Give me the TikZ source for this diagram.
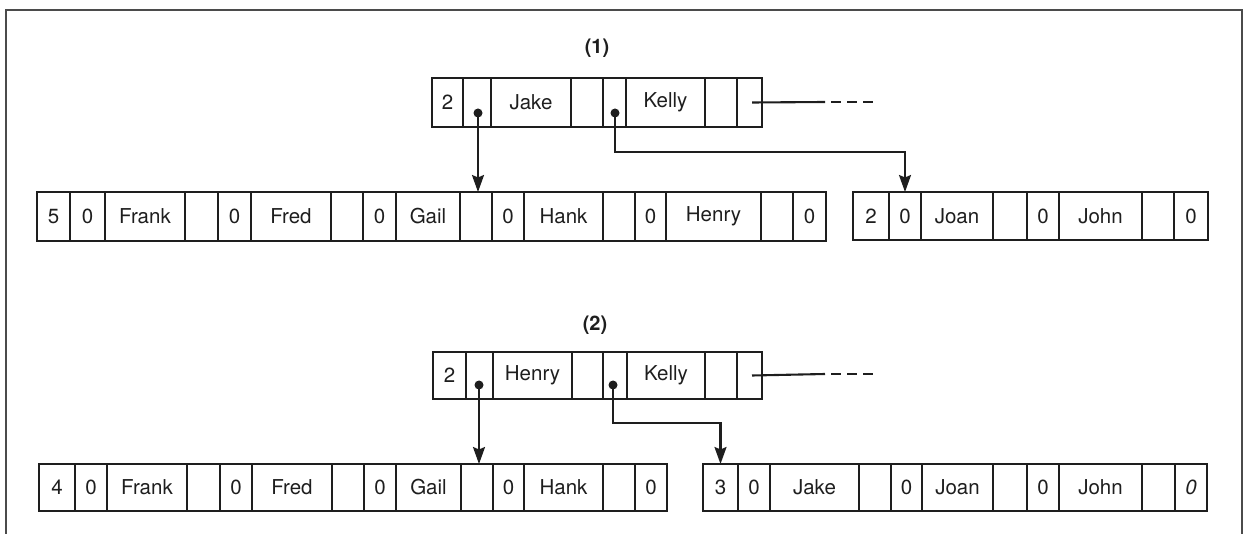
\documentclass[tikz,border=0pt]{standalone}
\usepackage{fontspec}
\setmainfont{TeX Gyre Heros}
\usetikzlibrary{arrows.meta}
\definecolor{ink}{HTML}{1E1E1E}
\tikzset{
  cell/.style={draw=ink, line width=2.1pt, rectangle, inner sep=0pt, outer sep=0pt,
    font=\fontsize{20.5}{24}\selectfont, text=ink},
  arr/.style={draw=ink, line width=2.1pt, -{Stealth[length=17pt,width=12pt,inset=2.5pt]}},
  conn/.style={draw=ink, line width=2.1pt},
  dashconn/.style={draw=ink, line width=2.1pt, dash pattern=on 10pt off 6pt, dash phase=10pt},
  dotm/.style={fill=ink},
  frame/.style={draw=ink!80, line width=1.5pt},
  lab/.style={font=\fontsize{20}{24}\selectfont\bfseries, text=ink, inner sep=0pt}
}
\newcommand\mkcell[6]{\node[cell, minimum width={(#3-#2)*1pt}, minimum height={(#5-#4)*1pt}] (#1) at ({(#2+#3)/2},{-(#4+#5)/2}) {#6};}
\begin{document}
\begin{tikzpicture}[x=1pt,y=1pt]
\useasboundingbox (0,0) rectangle (1245,-534);
% frame
\draw[frame] (6,-534) -- (6,-10) -- (1242,-10) -- (1242,-534);

% ===== (1) =====
\node[lab] (l1) at (597,-48) {(1)};
\mkcell{ta1}{432}{463}{78}{127}{2}
\mkcell{ta2}{463}{491}{78}{127}{}
\mkcell{ta3}{491}{571}{78}{127}{Jake}
\mkcell{ta4}{571}{603}{78}{127}{}
\mkcell{ta5}{603}{626}{78}{127}{}
\mkcell{ta6}{626}{705}{78}{127}{Kelly}
\mkcell{ta7}{705}{737}{78}{127}{}
\mkcell{ta8}{737}{762}{78}{127}{}

\mkcell{ra1}{37}{70}{192}{241}{5}
\mkcell{ra2}{70}{105}{192}{241}{0}
\mkcell{ra3}{105}{185}{192}{241}{Frank}
\mkcell{ra4}{185}{218}{192}{241}{}
\mkcell{ra5}{218}{251}{192}{241}{0}
\mkcell{ra6}{251}{331}{192}{241}{Fred}
\mkcell{ra7}{331}{363}{192}{241}{}
\mkcell{ra8}{363}{396}{192}{241}{0}
\mkcell{ra9}{396}{460}{192}{241}{Gail}
\mkcell{ra10}{460}{492}{192}{241}{}
\mkcell{ra11}{492}{524}{192}{241}{0}
\mkcell{ra12}{524}{603}{192}{241}{Hank}
\mkcell{ra13}{603}{635}{192}{241}{}
\mkcell{ra14}{635}{666}{192}{241}{0}
\mkcell{ra15}{666}{761}{192}{241}{Henry}
\mkcell{ra16}{761}{793}{192}{241}{}
\mkcell{ra17}{793}{826}{192}{241}{0}

\mkcell{sa1}{853}{889}{192}{240}{2}
\mkcell{sa2}{889}{921}{192}{240}{0}
\mkcell{sa3}{921}{993}{192}{240}{Joan}
\mkcell{sa4}{993}{1027}{192}{240}{}
\mkcell{sa5}{1027}{1059}{192}{240}{0}
\mkcell{sa6}{1059}{1142}{192}{240}{John}
\mkcell{sa7}{1142}{1174}{192}{240}{}
\mkcell{sa8}{1174}{1208}{192}{240}{0}

\coordinate (pa1) at (478,-113);
\coordinate (pa2) at (615,-113);
\coordinate (ka) at (615,-152);
\coordinate (da) at (825,-102);
\coordinate (ea) at (874,-102);
\fill[dotm] (pa1) circle (4.5pt);
\fill[dotm] (pa2) circle (4.5pt);
\draw[arr] (pa1) -- (pa1 |- ra10.north);
\draw[arr] (pa2) -- (ka) -| (sa2.north);
\draw[conn] ([xshift=2.5pt]ta8.center) -- (da);
\draw[dashconn] (da) -- (ea);

% ===== (2) =====
\node[lab] (l2) at (595,-325) {(2)};
\mkcell{tb1}{433}{466}{352}{399}{2}
\mkcell{tb2}{466}{493}{352}{399}{}
\mkcell{tb3}{493}{572}{352}{399}{Henry}
\mkcell{tb4}{572}{603}{352}{399}{}
\mkcell{tb5}{603}{627}{352}{399}{}
\mkcell{tb6}{627}{705}{352}{399}{Kelly}
\mkcell{tb7}{705}{737}{352}{399}{}
\mkcell{tb8}{737}{762}{352}{399}{}

\mkcell{rb1}{39}{75}{464}{511}{4}
\mkcell{rb2}{75}{107}{464}{511}{0}
\mkcell{rb3}{107}{187}{464}{511}{Frank}
\mkcell{rb4}{187}{220}{464}{511}{}
\mkcell{rb5}{220}{252}{464}{511}{0}
\mkcell{rb6}{252}{332}{464}{511}{Fred}
\mkcell{rb7}{332}{364}{464}{511}{}
\mkcell{rb8}{364}{396}{464}{511}{0}
\mkcell{rb9}{396}{461}{464}{511}{Gail}
\mkcell{rb10}{461}{493}{464}{511}{}
\mkcell{rb11}{493}{524}{464}{511}{0}
\mkcell{rb12}{524}{603}{464}{511}{Hank}
\mkcell{rb13}{603}{635}{464}{511}{}
\mkcell{rb14}{635}{667}{464}{511}{0}

\mkcell{sb1}{703}{738}{464}{511}{3}
\mkcell{sb2}{738}{770}{464}{511}{0}
\mkcell{sb3}{770}{859}{464}{511}{Jake}
\mkcell{sb4}{859}{891}{464}{511}{}
\mkcell{sb5}{891}{922}{464}{511}{0}
\mkcell{sb6}{922}{993}{464}{511}{Joan}
\mkcell{sb7}{993}{1027}{464}{511}{}
\mkcell{sb8}{1027}{1059}{464}{511}{0}
\mkcell{sb9}{1059}{1142}{464}{511}{John}
\mkcell{sb10}{1142}{1175}{464}{511}{}
\mkcell{sb11}{1175}{1207}{464}{511}{\itshape 0}

\coordinate (pb1) at (479,-385);
\coordinate (pb2) at (613,-385);
\coordinate (kb) at (613,-423);
\coordinate (db) at (825,-374);
\coordinate (eb) at (874,-374);
\fill[dotm] (pb1) circle (4.5pt);
\fill[dotm] (pb2) circle (4.5pt);
\draw[arr] (pb1) -- (pb1 |- rb10.north);
\draw[arr] (pb2) -- (kb) -| (sb1.north);
\draw[conn] ([xshift=2.5pt]tb8.center) -- (db);
\draw[dashconn] (db) -- (eb);
\end{tikzpicture}
\end{document}
